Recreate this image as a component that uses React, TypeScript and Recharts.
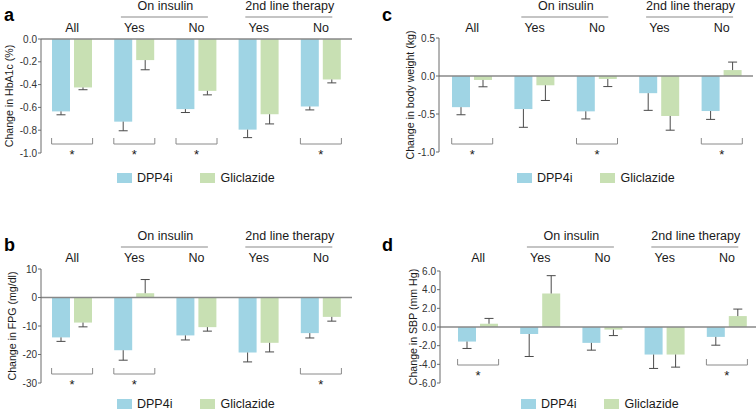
import React from "react";
import { BarChart, Bar, XAxis, YAxis, ReferenceLine, Legend } from "recharts";

const CATEGORIES = ["All", "Yes", "No", "Yes", "No"];
const GROUP_HEADERS = ["", "On insulin", "", "2nd line therapy", ""];

// a: HbA1c (%)
const hba1cDpp4 = [-0.635, -0.725, -0.615, -0.795, -0.592];
const hba1cDpp4Err = [0.03, 0.08, 0.03, 0.07, 0.03];
const hba1cGlic = [-0.425, -0.185, -0.455, -0.66, -0.355];
const hba1cGlicErr = [0.02, 0.085, 0.035, 0.085, 0.03];
const hba1cSig = [true, true, true, false, true];

// b: FPG (mg/dl)
const fpgDpp4 = [-14.0, -18.5, -13.3, -19.3, -12.5];
const fpgDpp4Err = [1.4, 3.5, 1.6, 3.3, 1.7];
const fpgGlic = [-8.8, 1.5, -10.4, -15.9, -6.8];
const fpgGlicErr = [1.5, 4.8, 1.4, 3.2, 1.5];
const fpgSig = [true, true, false, false, true];

// c: body weight (kg)
const bwDpp4 = [-0.41, -0.435, -0.465, -0.226, -0.461];
const bwDpp4Err = [0.1, 0.24, 0.1, 0.226, 0.11];
const bwGlic = [-0.052, -0.122, -0.039, -0.526, 0.078];
const bwGlicErr = [0.09, 0.2, 0.1, 0.187, 0.105];
const bwSig = [true, false, true, false, true];

// d: SBP (mm Hg)
const sbpDpp4 = [-1.56, -0.75, -1.7, -2.95, -1.06];
const sbpDpp4Err = [0.74, 2.41, 0.78, 1.49, 0.89];
const sbpGlic = [0.35, 3.59, -0.28, -2.95, 1.17];
const sbpGlicErr = [0.57, 1.91, 0.64, 1.35, 0.75];
const sbpSig = [true, false, false, false, true];

const BLUE = "#9fd4e4";
const GREEN = "#c8e0b3";
const FONT = '"Liberation Sans", Arial, Helvetica, sans-serif';

const makeRows = (d: number[], dErr: number[], g: number[], gErr: number[], sig: boolean[]) =>
  CATEGORIES.map((cat, i) => ({ cat, dpp4: d[i], dpp4Err: dErr[i], glic: g[i], glicErr: gErr[i], sig: sig[i] }));

// bar with a one-sided whisker pointing away from zero
const whiskerBar = (valueKey: string, errKey: string) => (props: any) => {
  const { x, y, width, height, fill, payload } = props;
  const v = payload[valueKey];
  const e = payload[errKey];
  const top = Math.min(y, y + height);
  const h = Math.abs(height);
  const pxPerUnit = v !== 0 ? h / Math.abs(v) : 0;
  const tip = v >= 0 ? top : top + h;
  const end = v >= 0 ? tip - e * pxPerUnit : tip + e * pxPerUnit;
  const cx = x + width / 2;
  return (
    <g>
      <rect x={x} y={top} width={width} height={h} fill={fill} />
      <line x1={cx} x2={cx} y1={tip} y2={end} stroke="#4a4a4a" strokeWidth={1} />
      <line x1={cx - 4.5} x2={cx + 4.5} y1={end} y2={end} stroke="#4a4a4a" strokeWidth={1} />
    </g>
  );
};

type PanelProps = {
  letter: string;
  left: number;
  top: number;
  width: number;
  rows: ReturnType<typeof makeRows>;
  domain: [number, number];
  ticks: number[];
  digits: number;
  yLabel: string;
  labelGap: number;
  plotLeft: number;
  plotRight: number;
  plotTop: number;
  plotBottom: number;
  padLeft: number;
  bracketOffset: number;
  legendLeft: number;
  legendTop: number;
};

const HEIGHT = 200;

function Panel(p: PanelProps) {
  const bw = (p.plotRight - p.plotLeft - p.padLeft) / CATEGORIES.length;
  const bottomAxisH = 20;

  const headerTick = (t: any) => {
    const { x, index } = t;
    const head = GROUP_HEADERS[index];
    const mid = x + bw / 2;
    return (
      <g fontFamily={FONT}>
        <text x={x} y={32} textAnchor="middle" fontSize={12.5} fill="#1a1a1a">
          {CATEGORIES[index]}
        </text>
        {head ? (
          <g>
            <text x={mid} y={9.5} textAnchor="middle" fontSize={12.5} fill="#1a1a1a">
              {head}
            </text>
            <line x1={mid - 44.5} x2={mid + 42.5} y1={17} y2={17} stroke="#8a8a8a" strokeWidth={1.2} />
          </g>
        ) : null}
      </g>
    );
  };

  const bracketTick = (t: any) => {
    const { x, y, index } = t;
    if (!p.rows[index].sig) return <g />;
    const by = y - p.bracketOffset;
    return (
      <g>
        <path
          d={`M${x - 20.5},${by - 6}V${by}H${x + 20.5}V${by - 6}`}
          fill="none"
          stroke="#8a8a8a"
          strokeWidth={1}
        />
        <text x={x} y={by + 15} textAnchor="middle" fontSize={13} fontFamily={FONT} fill="#1a1a1a">
          *
        </text>
      </g>
    );
  };

  const yLabel = (lp: any) => {
    const vb = lp.viewBox || {};
    const cx = vb.x + vb.width - p.labelGap;
    const cy = vb.y + vb.height / 2;
    return (
      <text
        x={cx}
        y={cy}
        transform={`rotate(-90 ${cx} ${cy})`}
        textAnchor="middle"
        dominantBaseline="central"
        fontSize={10.6}
        fontFamily={FONT}
        fill="#1a1a1a"
      >
        {p.yLabel}
      </text>
    );
  };

  const legendContent = (lp: any) => (
    <div style={{ display: "flex", alignItems: "center", fontFamily: FONT, fontSize: 12.5, color: "#1a1a1a" }}>
      {(lp.payload || []).map((item: any, i: number) => (
        <div key={i} style={{ display: "flex", alignItems: "center", marginRight: 28 }}>
          <span
            style={{
              display: "inline-block",
              width: 15,
              height: 10,
              background: item.color,
              marginRight: 5,
            }}
          />
          <span>{item.value}</span>
        </div>
      ))}
    </div>
  );

  return (
    <div style={{ position: "absolute", left: p.left, top: p.top }}>
      <div
        style={{
          position: "absolute",
          left: 4,
          top: 6,
          fontFamily: FONT,
          fontWeight: "bold",
          fontSize: 18,
          lineHeight: "18px",
          color: "#000",
          zIndex: 2,
        }}
      >
        {p.letter}
      </div>
      <BarChart
        width={p.width}
        height={HEIGHT}
        data={p.rows}
        margin={{ top: 0, right: p.width - p.plotRight, bottom: HEIGHT - p.plotBottom - bottomAxisH, left: 0 }}
        barSize={18}
        barGap={4}
        style={{ fontFamily: FONT }}
      >
        <XAxis
          xAxisId="top"
          orientation="top"
          dataKey="cat"
          height={p.plotTop}
          axisLine={false}
          tickLine={false}
          tickSize={0}
          tickMargin={0}
          interval={0}
          padding={{ left: p.padLeft, right: 0 }}
          tick={headerTick}
        />
        <XAxis
          xAxisId="bottom"
          dataKey="cat"
          height={bottomAxisH}
          axisLine={false}
          tickLine={false}
          tickSize={0}
          tickMargin={0}
          interval={0}
          padding={{ left: p.padLeft, right: 0 }}
          tick={bracketTick}
        />
        <YAxis
          width={p.plotLeft}
          domain={p.domain}
          ticks={p.ticks}
          interval={0}
          allowDataOverflow
          stroke="#6a6a6a"
          tickSize={3}
          tickMargin={1}
          tick={{ fill: "#333", fontSize: 10, fontFamily: FONT }}
          tickFormatter={(v: number) => v.toFixed(p.digits)}
          label={yLabel}
        />
        <Bar
          xAxisId="bottom"
          dataKey="dpp4"
          name="DPP4i"
          fill={BLUE}
          isAnimationActive={false}
          shape={whiskerBar("dpp4", "dpp4Err")}
        />
        <Bar
          xAxisId="bottom"
          dataKey="glic"
          name="Gliclazide"
          fill={GREEN}
          isAnimationActive={false}
          shape={whiskerBar("glic", "glicErr")}
        />
        <ReferenceLine xAxisId="bottom" y={0} stroke="#888" strokeWidth={1.3} />
        <Legend
          verticalAlign="middle"
          align="center"
          layout="horizontal"
          wrapperStyle={{ top: p.legendTop, left: p.legendLeft, width: 240, height: 14 }}
          content={legendContent}
        />
      </BarChart>
    </div>
  );
}

export default function App() {
  return (
    <div
      style={{
        position: "absolute",
        left: 0,
        top: 0,
        width: 756,
        height: 412,
        overflow: "hidden",
        background: "#fff",
      }}
    >
      <Panel
        letter="a"
        left={0}
        top={0}
        width={378}
        rows={makeRows(hba1cDpp4, hba1cDpp4Err, hba1cGlic, hba1cGlicErr, hba1cSig)}
        domain={[-1, 0]}
        ticks={[0, -0.2, -0.4, -0.6, -0.8, -1.0]}
        digits={1}
        yLabel="Change in HbA1c (%)"
        labelGap={32}
        plotLeft={41}
        plotRight={352}
        plotTop={39}
        plotBottom={153}
        padLeft={0}
        bracketOffset={9}
        legendLeft={117}
        legendTop={171}
      />
      <Panel
        letter="b"
        left={0}
        top={230}
        width={378}
        rows={makeRows(fpgDpp4, fpgDpp4Err, fpgGlic, fpgGlicErr, fpgSig)}
        domain={[-30, 10]}
        ticks={[10, 0, -10, -20, -30]}
        digits={0}
        yLabel="Change in FPG (mg/dl)"
        labelGap={29}
        plotLeft={41}
        plotRight={352}
        plotTop={39}
        plotBottom={153}
        padLeft={0}
        bracketOffset={9}
        legendLeft={117}
        legendTop={167}
      />
      <Panel
        letter="c"
        left={378}
        top={0}
        width={378}
        rows={makeRows(bwDpp4, bwDpp4Err, bwGlic, bwGlicErr, bwSig)}
        domain={[-1, 0.5]}
        ticks={[0.5, 0, -0.5, -1.0]}
        digits={1}
        yLabel="Change in body weight (kg)"
        labelGap={29}
        plotLeft={61}
        plotRight={375}
        plotTop={38}
        plotBottom={152}
        padLeft={2}
        bracketOffset={8}
        legendLeft={139}
        legendTop={171}
      />
      <Panel
        letter="d"
        left={378}
        top={230}
        width={380}
        rows={makeRows(sbpDpp4, sbpDpp4Err, sbpGlic, sbpGlicErr, sbpSig)}
        domain={[-6, 6]}
        ticks={[6, 4, 2, 0, -2, -4, -6]}
        digits={1}
        yLabel="Change in SBP (mm Hg)"
        labelGap={27}
        plotLeft={62}
        plotRight={380}
        plotTop={41}
        plotBottom={153}
        padLeft={7}
        bracketOffset={18}
        legendLeft={143}
        legendTop={167}
      />
    </div>
  );
}
